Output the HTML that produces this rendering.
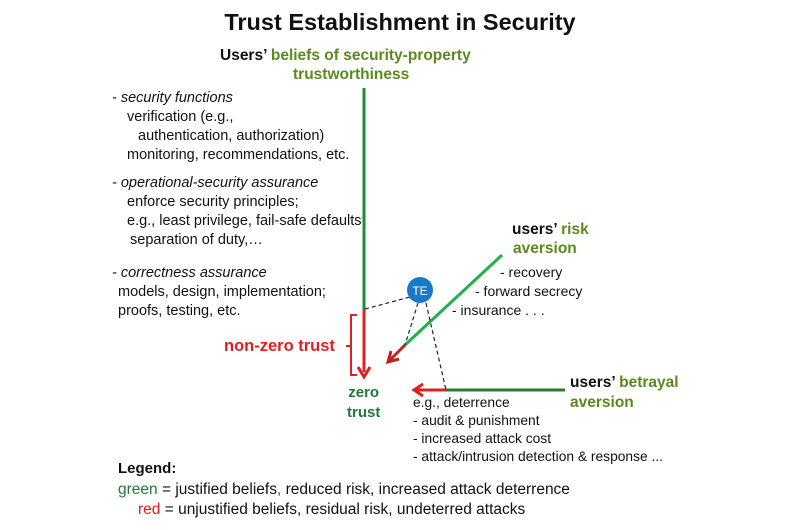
<!DOCTYPE html>
<html><head><style>
body{margin:0;width:800px;height:530px;background:#fff;position:relative;overflow:hidden;font-family:"Liberation Sans",sans-serif;color:#111}
.t{position:absolute;white-space:nowrap;font-size:14.5px;line-height:19px}
.b{font-weight:bold}
.g{color:#5a8a1e}
.dg{color:#1f7a3a}
.r{color:#e02020}
i{font-style:italic}
</style></head><body>
<div class="t b" style="left:0;width:800px;text-align:center;top:8px;font-size:23.5px;line-height:28px">Trust Establishment in Security</div>
<div class="t b" style="left:220px;top:46px;font-size:15.5px">Users’ <span class="g">beliefs of security-property</span></div>
<div class="t b g" style="left:293px;top:65px;font-size:15.5px">trustworthiness</div>

<div class="t" style="left:112px;top:89px"><i>- security functions</i></div>
<div class="t" style="left:127px;top:108px">verification (e.g.,</div>
<div class="t" style="left:138px;top:127px">authentication, authorization)</div>
<div class="t" style="left:127px;top:146px">monitoring, recommendations, etc.</div>
<div class="t" style="left:112px;top:174px"><i>- operational-security assurance</i></div>
<div class="t" style="left:127px;top:193px">enforce security principles;</div>
<div class="t" style="left:127px;top:212px">e.g., least privilege, fail-safe defaults,</div>
<div class="t" style="left:130px;top:231px">separation of duty,…</div>
<div class="t" style="left:112px;top:264px"><i>- correctness assurance</i></div>
<div class="t" style="left:118px;top:283px">models, design, implementation;</div>
<div class="t" style="left:118px;top:302px">proofs, testing, etc.</div>

<div class="t b r" style="left:224px;top:337px;font-size:16.5px">non-zero trust</div>
<div class="t b dg" style="left:347px;top:383px;font-size:15px;line-height:20px;text-align:center">zero<br>trust</div>

<div class="t b" style="left:512px;top:220px;font-size:15.5px">users’ <span class="g">risk</span></div>
<div class="t b g" style="left:513px;top:239px;font-size:15.5px">aversion</div>
<div class="t" style="left:500px;top:263px;font-size:14px">- recovery</div>
<div class="t" style="left:475px;top:282px;font-size:14px">- forward secrecy</div>
<div class="t" style="left:452px;top:301px;font-size:14px">- insurance . . .</div>

<div class="t b" style="left:570px;top:373px;font-size:15.5px">users’ <span class="g">betrayal</span></div>
<div class="t b g" style="left:570px;top:393px;font-size:15.5px">aversion</div>
<div class="t" style="left:413px;top:393px;font-size:13.8px">e.g., deterrence</div>
<div class="t" style="left:413px;top:411px;font-size:13.8px">- audit &amp; punishment</div>
<div class="t" style="left:413px;top:429px;font-size:13.8px">- increased attack cost</div>
<div class="t" style="left:413px;top:447px;font-size:13.8px">- attack/intrusion detection &amp; response ...</div>

<div class="t b" style="left:118px;top:459px;font-size:15px">Legend:</div>
<div class="t" style="left:118px;top:480px;font-size:15.5px"><span class="dg">green</span> = justified beliefs<span class="dg">,</span> reduced risk, increased attack deterrence</div>
<div class="t" style="left:138px;top:500px;font-size:15.5px"><span class="r">red</span> = unjustified beliefs, residual risk, undeterred attacks</div>

<svg width="800" height="530" style="position:absolute;left:0;top:0">
<line x1="364" y1="88" x2="364" y2="310" stroke="#1f8a3a" stroke-width="3"/>
<line x1="364" y1="310" x2="364" y2="372" stroke="#e02020" stroke-width="3"/>
<polyline points="358,367 364,377 370,367" fill="none" stroke="#e02020" stroke-width="3"/>
<polyline points="357,315 351,315 351,375 357,375" fill="none" stroke="#e02020" stroke-width="2"/>
<line x1="346" y1="346" x2="351" y2="346" stroke="#e02020" stroke-width="2"/>
<line x1="502" y1="255" x2="405" y2="345" stroke="#22b04a" stroke-width="3"/>
<line x1="405" y1="345" x2="390" y2="360" stroke="#c02020" stroke-width="3"/>
<polyline points="391,351 388,362 399,359" fill="none" stroke="#c02020" stroke-width="3"/>
<line x1="565" y1="390" x2="445" y2="390" stroke="#2a7a2a" stroke-width="3"/>
<line x1="445" y1="390" x2="415" y2="390" stroke="#e02020" stroke-width="3"/>
<polyline points="423,384 414,390 423,396" fill="none" stroke="#e02020" stroke-width="3"/>
<g stroke="#222" stroke-width="1.2" stroke-dasharray="4,3" fill="none">
<line x1="365" y1="309" x2="410" y2="297"/>
<line x1="418" y1="303" x2="405" y2="345"/>
<line x1="426" y1="303" x2="446" y2="390"/>
</g>
<circle cx="420" cy="290" r="13" fill="#1a78c8"/>
<text x="420" y="295" text-anchor="middle" font-family="Liberation Sans" font-size="12" fill="#fff">TE</text>
</svg>
</body></html>
